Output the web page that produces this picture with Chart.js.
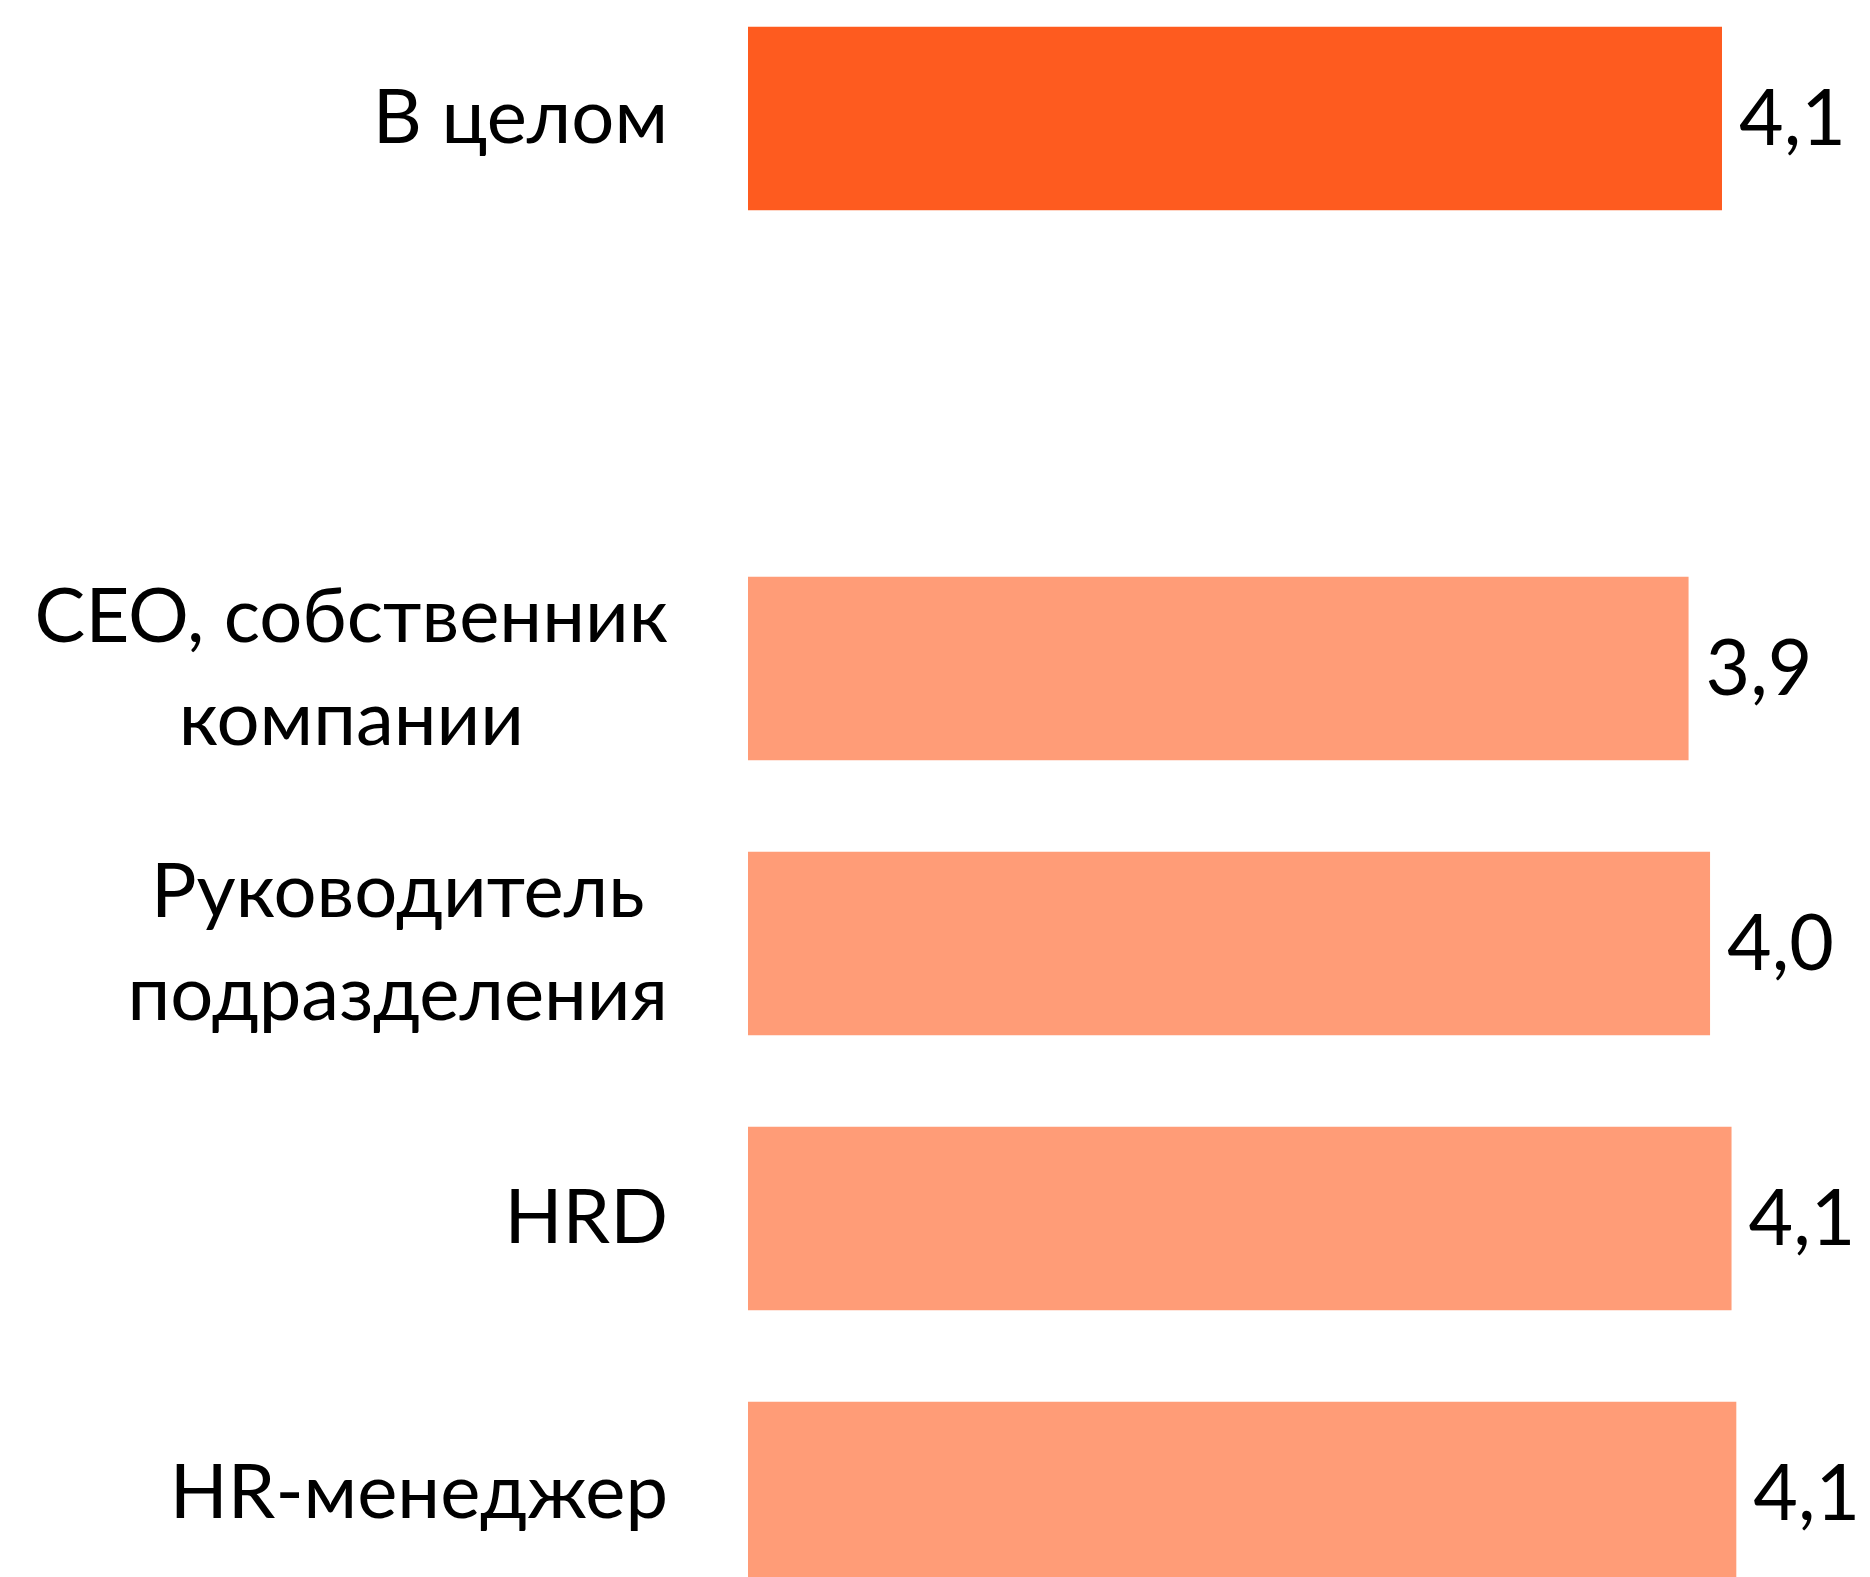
<!DOCTYPE html>
<html>
<head>
<meta charset="utf-8">
<script src="https://cdn.jsdelivr.net/npm/chart.js@4"></script>
<style>
  html, body { margin: 0; padding: 0; background: #fff; overflow: hidden; }
  body { width: 1870px; height: 1577px; position: relative; }
  #chart { position: absolute; left: 0; top: -19px; }
</style>
</head>
<body>
<canvas id="chart" width="1870" height="1650"></canvas>
<script>
// categories (one array of lines per bar, empty slot = gap)
const categories = [
  ["В целом"],
  [""],
  ["CEO, собственник", "компании"],
  ["Руководитель", "подразделения"],
  ["HRD"],
  ["HR-менеджер"],
];
const values = [4.08, null, 3.94, 4.03, 4.12, 4.14];
const barColors = ["#FE5B1F", null, "#FF9C77", "#FF9C77", "#FF9C77", "#FF9C77"];

const labelFont = "76px Lato";
const valueFont = "77px Lato";
const lineHeight = 103;

// draws category names (right aligned block, centered lines) and value labels
const labelPlugin = {
  id: "barLabels",
  afterDatasetsDraw(chart) {
    const ctx = chart.ctx;
    const yScale = chart.scales.y;
    ctx.save();
    ctx.fillStyle = "#000";
    ctx.textBaseline = "middle";

    ctx.font = labelFont;
    ctx.textAlign = "center";
    categories.forEach((lines, i) => {
      const y = yScale.getPixelForValue(i);
      const widest = Math.max(...lines.map((l) => ctx.measureText(l).width));
      const cx = chart.chartArea.left - 80 - widest / 2;
      lines.forEach((line, j) => {
        ctx.fillText(line, cx, y + (j - (lines.length - 1) / 2) * lineHeight);
      });
    });

    ctx.font = valueFont;
    ctx.textAlign = "left";
    const meta = chart.getDatasetMeta(0);
    meta.data.forEach((bar, i) => {
      if (values[i] == null) return;
      ctx.fillText(values[i].toFixed(1).replace(".", ","), bar.x + 17, bar.y + 2);
    });
    ctx.restore();
  },
};

const ctx = document.getElementById("chart").getContext("2d");
new Chart(ctx, {
  type: "bar",
  data: {
    labels: categories,
    datasets: [
      {
        data: values,
        backgroundColor: barColors,
        borderWidth: 0,
        categoryPercentage: 1,
        barPercentage: 0.667,
      },
    ],
  },
  options: {
    indexAxis: "y",
    responsive: false,
    animation: false,
    devicePixelRatio: 1,
    layout: { padding: 0 },
    plugins: {
      legend: { display: false },
      tooltip: { enabled: false },
    },
    scales: {
      x: {
        display: false,
        min: 0,
        max: 4.7,
      },
      y: {
        grid: { display: false },
        border: { display: false },
        ticks: { display: false },
        afterFit(scale) {
          scale.width = 748;
        },
      },
    },
  },
  plugins: [labelPlugin],
});
</script>
</body>
</html>
